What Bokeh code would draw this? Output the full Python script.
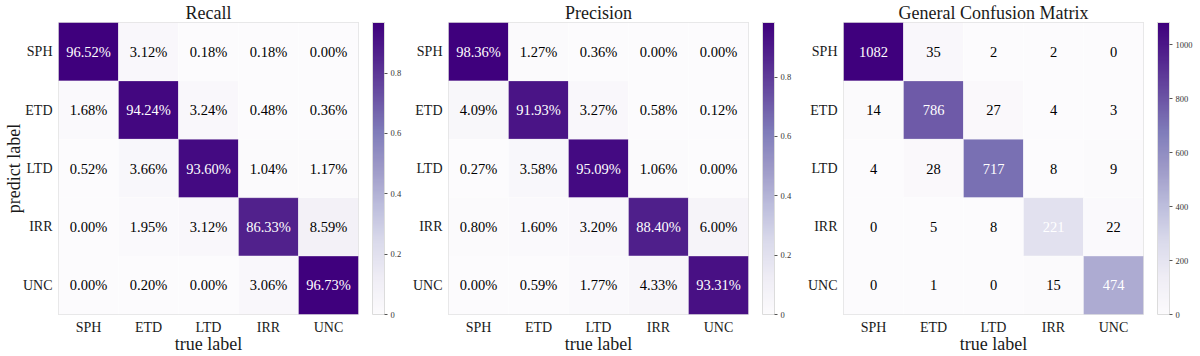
import numpy as np
from bokeh.plotting import figure
from bokeh.models import (ColumnDataSource, LinearColorMapper, ColorBar, FactorRange,
                          FixedTicker)
from bokeh.layouts import row
from bokeh.palettes import Purples256
from bokeh.core.properties import value
from bokeh.embed import file_html
from bokeh.resources import INLINE

classes = ["SPH", "ETD", "LTD", "IRR", "UNC"]

# rows = predict label, columns = true label
recall_pct = [
    [96.52, 3.12, 0.18, 0.18, 0.00],
    [1.68, 94.24, 3.24, 0.48, 0.36],
    [0.52, 3.66, 93.60, 1.04, 1.17],
    [0.00, 1.95, 3.12, 86.33, 8.59],
    [0.00, 0.20, 0.00, 3.06, 96.73],
]
precision_pct = [
    [98.36, 1.27, 0.36, 0.00, 0.00],
    [4.09, 91.93, 3.27, 0.58, 0.12],
    [0.27, 3.58, 95.09, 1.06, 0.00],
    [0.80, 1.60, 3.20, 88.40, 6.00],
    [0.00, 0.59, 1.77, 4.33, 93.31],
]
counts = [
    [1082, 35, 2, 2, 0],
    [14, 786, 27, 4, 3],
    [4, 28, 717, 8, 9],
    [0, 5, 8, 221, 22],
    [0, 1, 0, 15, 474],
]
titles = ["Recall", "Precision", "General Confusion Matrix"]
ratio_ticks = [0.0, 0.2, 0.4, 0.6, 0.8]
count_ticks = [0, 200, 400, 600, 800, 1000]

FONT = "Liberation Serif"
TXT = "#1a1a1a"
palette = list(reversed(Purples256))


def panel(title, vals, labels, ticks, ylabel, left, right):
    vals = np.array(vals, dtype=float)
    xs, ys, vs, ts, cs = [], [], [], [], []
    for i, pr in enumerate(classes):
        for j, tr in enumerate(classes):
            xs.append(tr)
            ys.append(pr)
            vs.append(vals[i, j])
            ts.append(labels[i][j])
            cs.append("white" if i == j else "black")
    src = ColumnDataSource(dict(x=xs, y=ys, v=vs, t=ts, c=cs))
    mapper = LinearColorMapper(palette=palette, low=0, high=float(vals.max()))
    p = figure(x_range=FactorRange(*classes), y_range=FactorRange(*reversed(classes)),
               frame_width=300, height=356, output_backend="svg",
               toolbar_location=None, min_border_left=left, min_border_right=right,
               min_border_top=16, min_border_bottom=0, title=title)
    p.title.align = "center"
    p.title.text_font = FONT
    p.title.text_font_size = "18px"
    p.title.text_font_style = "normal"
    p.title.text_color = TXT
    p.title.standoff = 0
    p.title.offset = 0
    p.rect("x", "y", 1, 1, source=src, fill_color={"field": "v", "transform": mapper},
           line_color="white", line_width=0.6, line_alpha=0.5)
    p.text("x", "y", text="t", source=src, text_color="c", text_align="center",
           text_baseline="middle", text_font=value(FONT), text_font_size="14.5px")
    p.outline_line_color = "#dcdcdc"
    p.grid.visible = False
    for ax in (p.xaxis[0], p.yaxis[0]):
        ax.axis_line_color = None
        ax.major_tick_line_color = None
        ax.minor_tick_line_color = None
        ax.major_tick_out = 0
        ax.major_label_text_font = FONT
        ax.major_label_text_font_size = "14px"
        ax.major_label_text_color = TXT
        ax.axis_label_text_font = FONT
        ax.axis_label_text_font_size = "18px"
        ax.axis_label_text_font_style = "normal"
        ax.axis_label_text_color = TXT
    p.xaxis.major_label_standoff = 5
    p.xaxis.axis_label_standoff = -4
    p.yaxis.major_label_standoff = 6
    p.yaxis.axis_label_standoff = -4
    p.xaxis.axis_label = "true label"
    if ylabel:
        p.yaxis.axis_label = "predict label"
    # transparent spacer between heatmap and colour bar
    gap = ColorBar(color_mapper=mapper, ticker=FixedTicker(ticks=[]), width=14,
                   padding=0, margin=0, label_standoff=0, scale_alpha=0,
                   major_tick_out=0, major_tick_in=0, major_label_text_alpha=0,
                   bar_line_color=None, border_line_color=None,
                   background_fill_alpha=0)
    p.add_layout(gap, "right")
    cb = ColorBar(color_mapper=mapper, ticker=FixedTicker(ticks=ticks), width=12,
                  padding=0, margin=0, label_standoff=3,
                  major_label_text_font=FONT,
                  major_label_text_font_size="8.5px", major_label_text_color="#333333",
                  major_tick_out=3, major_tick_in=0, major_tick_line_color="#555555",
                  bar_line_color="#dcdcdc", border_line_color=None)
    p.add_layout(cb, "right")
    return p


rec_lbl = [[f"{v:.2f}%" for v in r] for r in recall_pct]
pre_lbl = [[f"{v:.2f}%" for v in r] for r in precision_pct]
cnt_lbl = [[str(v) for v in r] for r in counts]

p1 = panel(titles[0], np.array(recall_pct) / 100, rec_lbl, ratio_ticks, True, 56, 44)
p2 = panel(titles[1], np.array(precision_pct) / 100, pre_lbl, ratio_ticks, False, 44, 48)
p3 = panel(titles[2], counts, cnt_lbl, count_ticks, False, 47, 50)

layout = row(p1, p2, p3, spacing=0)
open("out.html", "w").write(file_html(layout, INLINE))
